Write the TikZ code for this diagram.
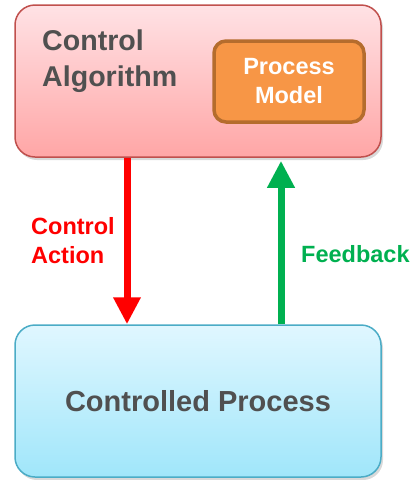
\documentclass[tikz,border=0pt]{standalone}
\usepackage{fontspec}
\setmainfont{Liberation Sans}
\usetikzlibrary{arrows.meta,shadows}

\definecolor{txtgray}{HTML}{505050}
\definecolor{algotop}{HTML}{FFE2E5}
\definecolor{algobot}{HTML}{FFA6A6}
\definecolor{algoline}{HTML}{C0504D}
\definecolor{proctop}{HTML}{E0F7FF}
\definecolor{procbot}{HTML}{A0E6FA}
\definecolor{procline}{HTML}{4BACC6}
\definecolor{modelfill}{HTML}{F79646}
\definecolor{modelline}{HTML}{B56C2D}
\definecolor{actred}{HTML}{FF0000}
\definecolor{fbgreen}{HTML}{00B050}

\begin{document}
\begin{tikzpicture}[x=1pt,y=-1pt,
  bigbox/.style={rounded corners=20pt, line width=1.5pt, minimum width=366pt,
    minimum height=152pt, inner sep=0pt,
    drop shadow={shadow xshift=2pt, shadow yshift=-3pt, opacity=0.3}},
  flowarrow/.style={line width=7pt, -{Triangle[width=26pt,length=27pt]}},
  lbl/.style={font=\bfseries\fontsize{23.5}{29}\selectfont, inner sep=0pt, align=left}]
\useasboundingbox (0,0) rectangle (415,480);
\node[bigbox, draw=algoline, top color=algotop, bottom color=algobot] (algo) at (198,81) {};
\node[bigbox, draw=procline, top color=proctop, bottom color=procbot,
  font=\bfseries\fontsize{29}{35}\selectfont, text=txtgray] (proc) at (198,401) {Controlled Process};
\node[anchor=north west, inner sep=0pt, align=left, text=txtgray,
  font=\bfseries\fontsize{28.6}{36}\selectfont] (algotxt) at (42,30) {Control\\Algorithm};
\node[rounded corners=12pt, line width=3.5pt, draw=modelline, fill=modelfill,
  minimum width=150pt, minimum height=81pt, inner sep=0pt, text=white, align=center,
  font=\bfseries\fontsize{23.5}{29}\selectfont] (model) at (289,81.5) {Process\\Model};
\draw[flowarrow, actred] ([xshift=-71pt]algo.south) -- ([xshift=-71pt]proc.north);
\draw[flowarrow, fbgreen] ([xshift=83pt]proc.north) -- ([xshift=83pt,yshift=-3pt]algo.south);
\node[lbl, anchor=north west, text=actred] (acttxt) at (31,217) {Control\\Action};
\node[lbl, anchor=base west, text=fbgreen] (fbtxt) at (301,262) {Feedback};
\end{tikzpicture}
\end{document}
